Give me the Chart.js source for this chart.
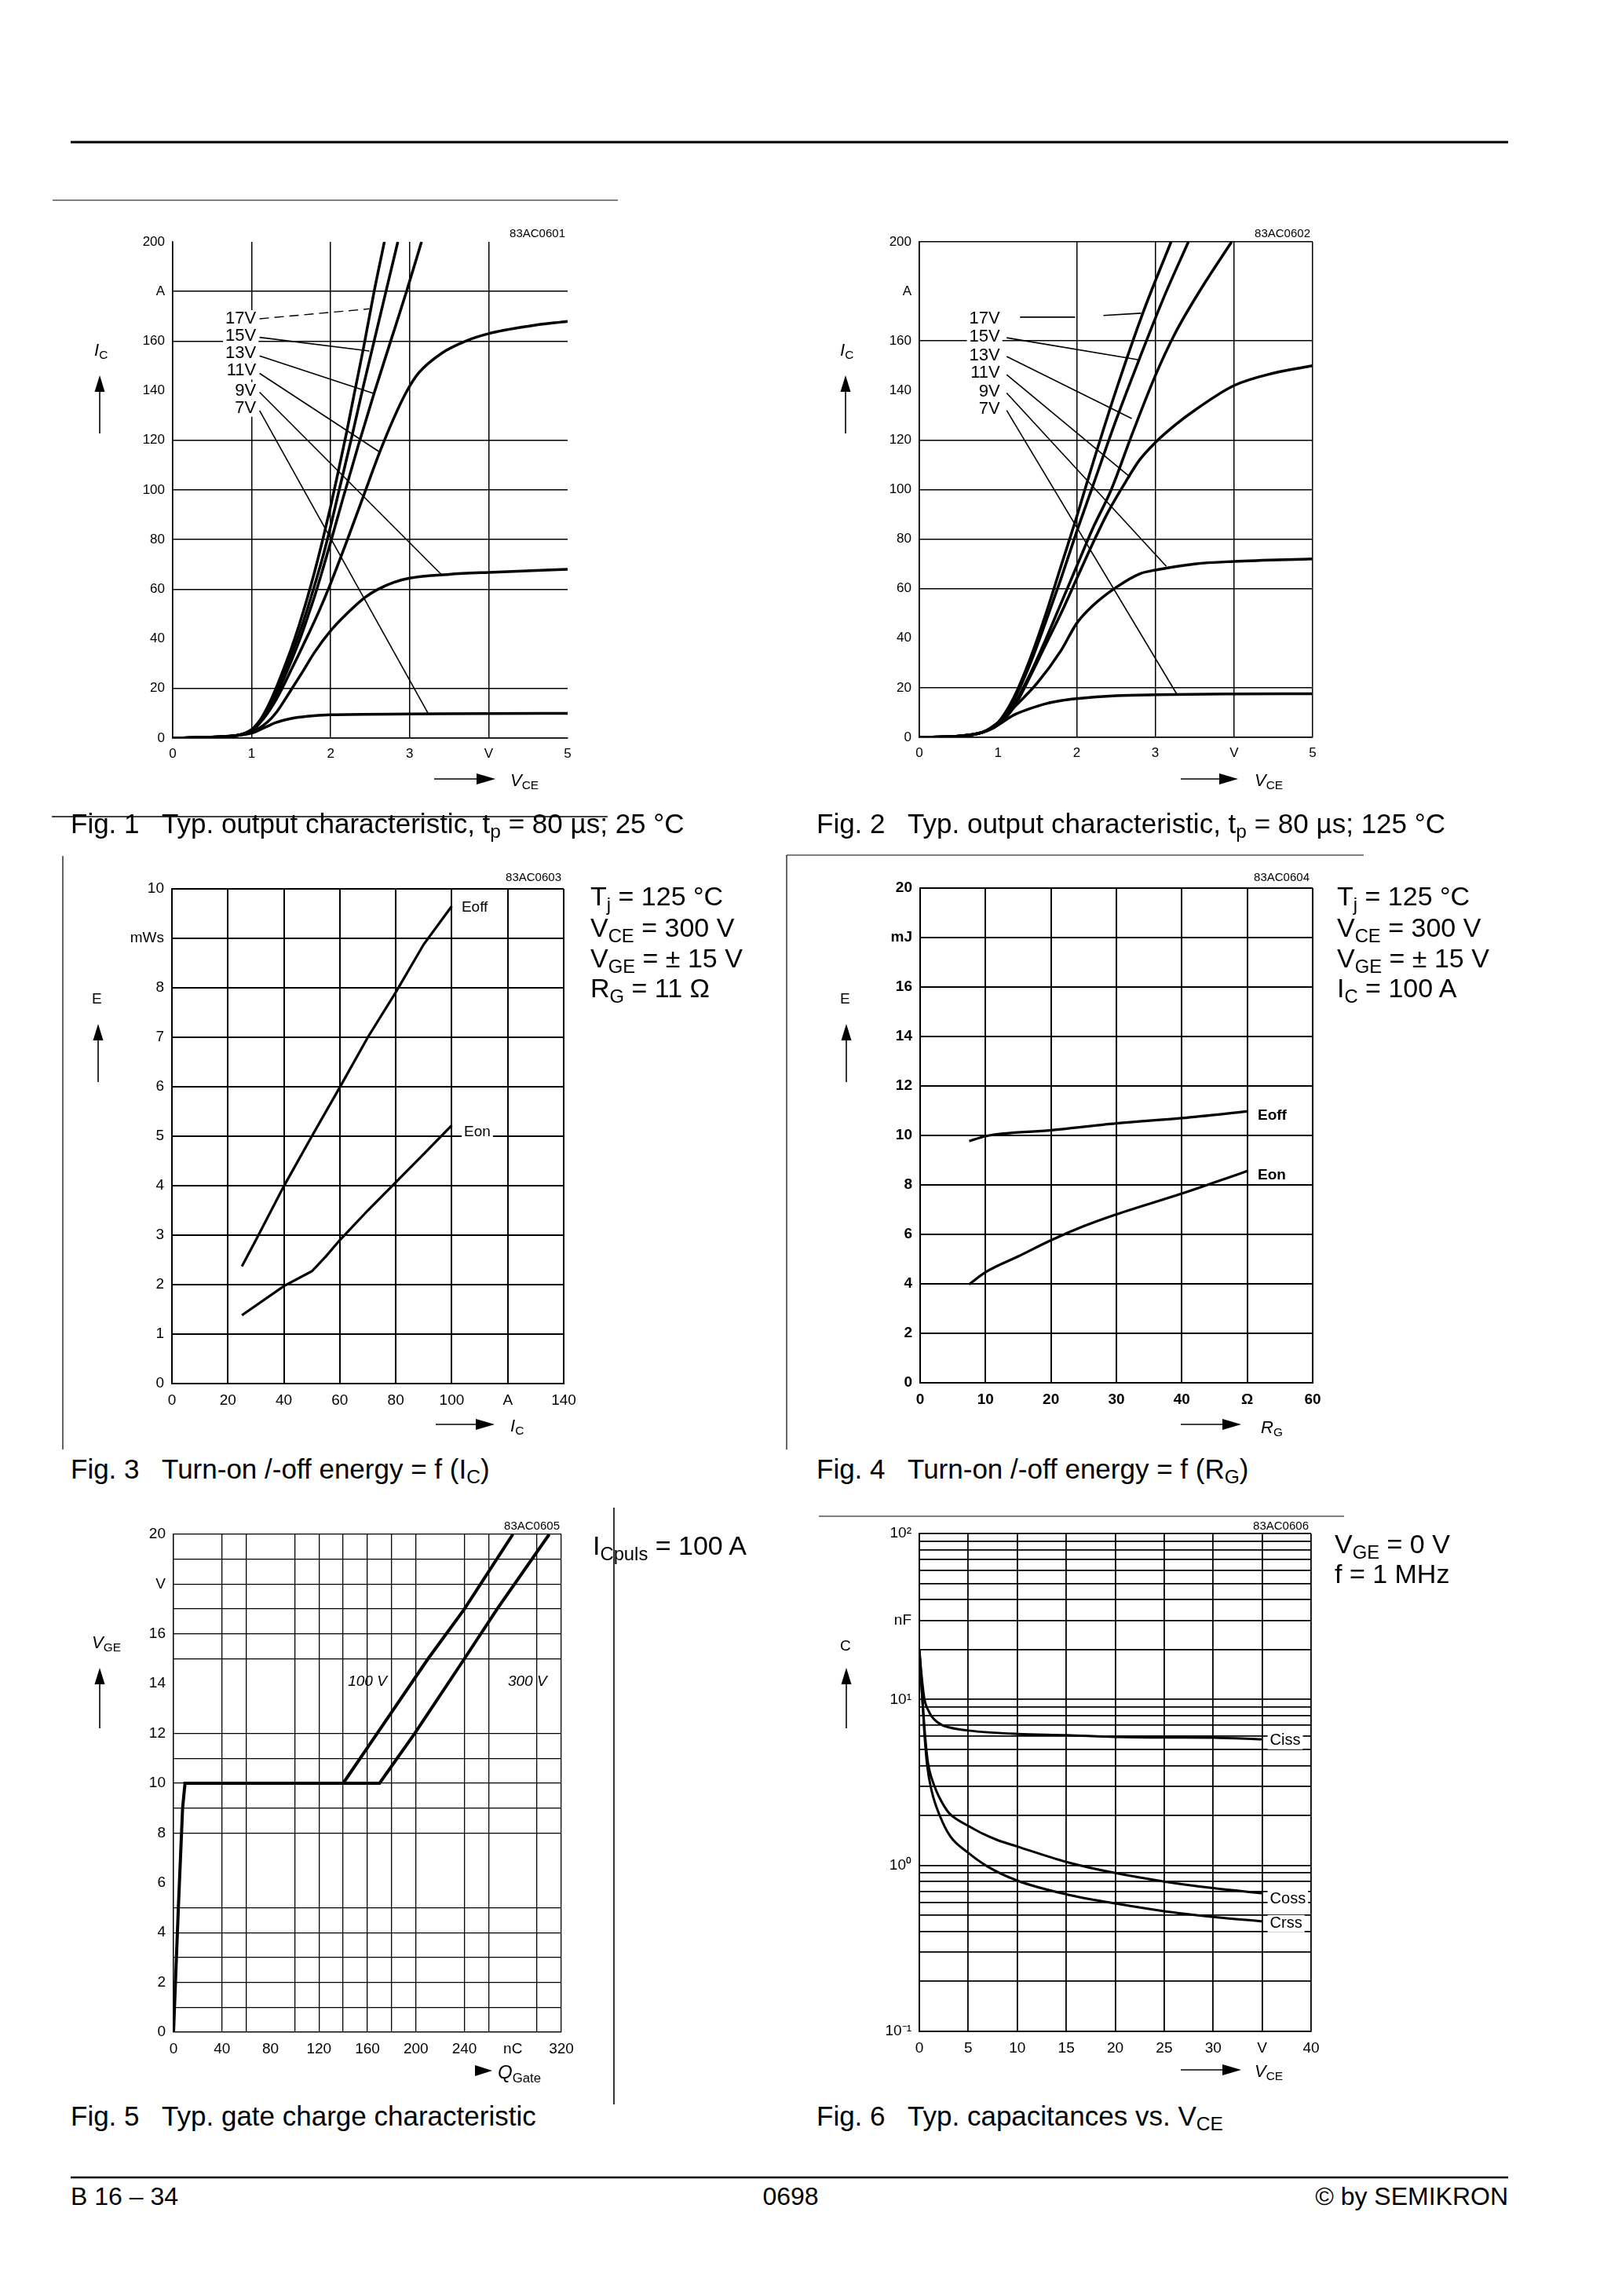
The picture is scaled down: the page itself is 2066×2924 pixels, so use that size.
<!DOCTYPE html>
<html>
<head>
<meta charset="utf-8">
<script src="https://cdn.jsdelivr.net/npm/chart.js@4.4.1/dist/chart.umd.min.js"></script>
<style>
  body { margin: 0; background: #fff; }
  #page { position: relative; width: 2066px; height: 2924px; background: #fff; overflow: hidden;
          font-family: 'Liberation Sans', Arial, sans-serif; color: #000; }
  .t { position: absolute; white-space: nowrap; line-height: 1; transform: translateY(-50%); }
  .r { transform: translate(-100%, -50%); }
  .c { transform: translate(-50%, -50%); }
  sub { font-size: 0.7em; vertical-align: -0.28em; line-height: 0; }
  canvas { position: absolute; }
  svg { position: absolute; left: 0; top: 0; }
</style>
</head>
<body>
<div id="page"></div>
<script>
// ---- Fig. 1: output characteristic, 25 °C  ([VCE, IC] pairs)
const f1_17V = [[0,0],[0.4,0.3],[0.8,1],[1,3.5],[1.1,7],[1.2,12.5],[1.3,19.5],[1.4,27.5],[1.5,36],[1.6,45.5],[1.7,56],[1.8,67.5],[1.9,80],[2,93.5],[2.1,108],[2.2,123],[2.3,139],[2.42,158],[2.55,180],[2.68,200]];
const f1_15V = [[0,0],[0.4,0.3],[0.8,1],[1,3.3],[1.1,6.5],[1.2,11.5],[1.3,18],[1.4,25.5],[1.5,33.5],[1.6,42],[1.7,51.5],[1.8,62],[1.9,73],[2,85.5],[2.1,99],[2.25,119],[2.4,140],[2.55,160],[2.7,180],[2.85,200]];
const f1_13V = [[0,0],[0.4,0.3],[0.8,1],[1,3.2],[1.1,6.2],[1.2,10.5],[1.3,16.5],[1.4,23.5],[1.5,31],[1.6,39],[1.7,48],[1.8,57.5],[1.9,68],[2,79],[2.15,96],[2.35,118],[2.55,139],[2.76,160],[2.96,180],[3.15,200]];
const f1_11V = [[0,0],[0.4,0.3],[0.8,1],[1,3],[1.1,6],[1.2,10],[1.3,15],[1.4,21],[1.5,27.5],[1.6,34],[1.72,42],[1.85,51],[1.97,60],[2.2,79],[2.42,98],[2.63,116],[2.8,129],[2.95,139],[3.11,147],[3.4,155],[3.71,160],[4,163],[4.5,166],[5,168]];
const f1_9V  = [[0,0],[0.4,0.3],[0.8,1],[1,2.5],[1.2,6.5],[1.32,10.7],[1.49,19],[1.65,27],[1.79,34.3],[2,43.3],[2.2,50],[2.43,56.6],[2.6,60],[2.8,62.8],[3,64.5],[3.5,66],[4,66.8],[5,68]];
const f1_7V  = [[0,0],[0.4,0.3],[0.8,1],[1,2],[1.2,4.8],[1.3,6.2],[1.5,7.9],[1.7,8.8],[2,9.4],[3,9.7],[4,9.9],[5,10]];
const f1_pointers = [
  [[1.10,169],[2.49,173]],
  [[1.10,161.5],[2.49,156]],
  [[1.10,154],[2.535,139]],
  [[1.10,147],[2.61,115.5]],
  [[1.10,139.4],[3.40,66]],
  [[1.10,132],[3.23,10.2]]
];
const f1_labels = ['17V','15V','13V','11V','9V','7V'];
const f1_labelY = [169,162,155,148,140,133];
const f1_xTicks = [0,1,2,3,4,5];
const f1_xLabels = ['0','1','2','3','V','5'];
const f1_yTicks = [0,20,40,60,80,100,120,140,160,180,200];
const f1_yLabels = ['0','20','40','60','80','100','120','140','160','A','200'];

// ---- Fig. 2: output characteristic, 125 °C
const f2_17V = [[0,0],[0.5,0.5],[0.8,2],[1,6],[1.2,16],[1.4,31],[1.6,49],[1.8,69],[2,89],[2.2,110],[2.5,140],[2.85,172],[3.2,200]];
const f2_15V = [[0,0],[0.5,0.5],[0.8,2],[1,5.5],[1.2,15],[1.4,29],[1.6,46],[1.8,64],[2,83],[2.2,101],[2.5,128],[2.8,153],[3.1,177],[3.42,200]];
const f2_13V = [[0,0],[0.5,0.5],[0.8,2],[1,5],[1.2,13],[1.4,25],[1.6,39],[1.8,54],[2,69],[2.2,84],[2.44,100],[2.7,122],[3,146],[3.25,163],[3.6,182],[3.97,200]];
const f2_11V = [[0,0],[0.5,0.5],[0.8,2],[1,5],[1.2,12],[1.4,24],[1.6,37],[1.8,50],[2,64],[2.2,78],[2.4,91],[2.62,103],[2.8,112],[3,119],[3.25,126],[3.5,132],[4,142],[4.5,147],[5,150]];
const f2_9V  = [[0,0],[0.5,0.5],[0.8,2],[1,6],[1.2,12],[1.5,22],[1.8,35],[2,46],[2.2,53],[2.5,60.5],[2.8,66],[3,67.5],[3.5,70],[4,71],[5,72]];
const f2_7V  = [[0,0],[0.5,0.5],[0.8,2],[1,5],[1.2,9],[1.4,11.5],[1.6,13.5],[1.8,14.8],[2,15.6],[2.5,16.8],[3,17.2],[4,17.5],[5,17.6]];
const f2_pointers = [
  [[1.28,169.6],[1.98,169.6],[2.1,null],[2.34,170.3],[2.82,171.2]],
  [[1.11,161.3],[2.79,152.4]],
  [[1.11,153.7],[2.70,128.7]],
  [[1.11,146.4],[2.68,105]],
  [[1.11,139],[3.14,69]],
  [[1.11,132],[3.27,17.6]]
];
const f2_labels = ['17V','15V','13V','11V','9V','7V'];
const f2_labelY = [168.8,161.8,154,147,139.6,132.4];

// ---- Fig. 3: energy vs IC
const f3_Eoff = [[25,2.37],[30,2.9],[40,3.99],[50,5.0],[60,5.99],[70,7.0],[80,7.91],[90,8.88],[100,9.65]];
const f3_Eon  = [[25,1.38],[40,1.97],[50,2.27],[55,2.57],[60,2.9],[70,3.5],[80,4.07],[90,4.64],[100,5.22]];
const f3_xTicks = [0,20,40,60,80,100,120,140];
const f3_xLabels = ['0','20','40','60','80','100','A','140'];
const f3_yTicks = [0,1,2,3,4,5,6,7,8,9,10];
const f3_yLabels = ['0','1','2','3','4','5','6','7','8','mWs','10'];

// ---- Fig. 4: energy vs RG
const f4_Eoff = [[7.5,9.77],[10,9.97],[20,10.21],[30,10.49],[40,10.7],[50,10.97]];
const f4_Eon  = [[7.5,3.98],[10,4.47],[15,5.11],[20,5.76],[25,6.33],[30,6.81],[40,7.65],[45,8.1],[50,8.56]];
const f4_xTicks = [0,10,20,30,40,50,60];
const f4_xLabels = ['0','10','20','30','40','Ω','60'];
const f4_yTicks = [0,2,4,6,8,10,12,14,16,18,20];
const f4_yLabels = ['0','2','4','6','8','10','12','14','16','mJ','20'];

// ---- Fig. 5: gate charge
const f5_common = [[0,0],[0.8,1],[4,5],[7.5,9],[9.5,10],[140,10]];
const f5_100V = [[140,10],[168,12],[210,15],[240,17],[280,20]];
const f5_300V = [[140,10],[170,10],[199,12],[240,15],[267,17],[310,20]];
const f5_xTicks = [0,20,40,60,80,100,120,140,160,180,200,220,240,260,280,300,320];
const f5_xLabels = ['0','','40','','80','','120','','160','','200','','240','','nC','','320'];
const f5_yTicks = [0,1,2,3,4,5,6,7,8,9,10,11,12,13,14,15,16,17,18,19,20];
const f5_yLabels = ['0','','2','','4','','6','','8','','10','','12','','14','','16','','V','','20'];

// ---- Fig. 6: capacitances vs VCE
const f6_Ciss = [[0,20],[0.2,14.5],[0.5,10.2],[1,8.4],[1.5,7.6],[2.35,7.0],[3,6.8],[5,6.5],[10,6.2],[15,6.1],[20,5.95],[25,5.9],[30,5.88],[35,5.75]];
const f6_Coss = [[0,20],[0.25,11.5],[0.5,7],[0.8,4.5],[1,3.8],[1.5,3.05],[2,2.6],[3,2.08],[4,1.87],[5,1.73],[6.5,1.55],[8,1.42],[10,1.3],[15,1.05],[20,0.9],[25,0.8],[30,0.73],[35,0.68]];
const f6_Crss = [[0,20],[0.25,11.5],[0.5,6.5],[0.8,4],[1.28,2.78],[2.08,2.0],[3.15,1.5],[5,1.19],[6.9,0.99],[10,0.81],[15,0.67],[20,0.59],[25,0.53],[30,0.49],[35,0.46]];
const f6_xTicks = [0,5,10,15,20,25,30,35,40];
const f6_xLabels = ['0','5','10','15','20','25','30','V','40'];
const f6_yGrid = [0.1,0.2,0.3,0.4,0.5,0.6,0.7,0.8,0.9,1,2,3,4,5,6,7,8,9,10,20,30,40,50,60,70,80,90,100];
const f6_yLabelMap = { 0.1: '10⁻¹', 1: '10⁰', 10: '10¹', 30: 'nF', 100: '10²' };

const page = document.getElementById('page');
Chart.defaults.font.family = "'Liberation Sans', Arial, sans-serif";
Chart.defaults.color = '#000';

const YW = 110, PT = 24, PR = 44, XH = 56;

function makeAxis(o) {
  const hide = o.hide || [];
  return {
    type: o.type || 'linear',
    min: o.min, max: o.max,
    afterBuildTicks: s => { s.ticks = o.ticks.map(v => ({ value: v })); },
    afterFit: s => { if (o.vertical) s.width = YW; else s.height = XH; },
    grid: {
      drawTicks: false,
      lineWidth: o.gw,
      color: c => (c.tick && hide.includes(c.tick.value)) ? 'rgba(0,0,0,0)' : '#000'
    },
    border: { display: true, color: '#000', width: o.gw },
    ticks: {
      autoSkip: false, maxRotation: 0, minRotation: 0, padding: 10, color: '#000',
      font: { size: o.fs, weight: o.fw || 'normal' },
      callback: (v, i) => o.labels[i]
    }
  };
}

function ds(pts, w, dash, smooth) {
  return {
    data: pts, borderColor: '#000', borderWidth: w, borderDash: dash || [],
    pointRadius: 0, fill: false, tension: 0, spanGaps: false,
    cubicInterpolationMode: smooth ? 'monotone' : 'default'
  };
}

function textPlugin(items) {
  return {
    id: 'curveText',
    afterDatasetsDraw(chart) {
      const ctx = chart.ctx, sx = chart.scales.x, sy = chart.scales.y;
      ctx.save();
      items.forEach(it => {
        ctx.font = it.font;
        ctx.textAlign = it.align || 'left';
        ctx.textBaseline = 'middle';
        const px = sx.getPixelForValue(it.x), py = sy.getPixelForValue(it.y);
        if (it.bg) {
          const tw = ctx.measureText(it.text).width;
          const x0 = it.align === 'right' ? px - tw : (it.align === 'center' ? px - tw / 2 : px);
          ctx.fillStyle = '#fff';
          ctx.fillRect(x0 - 3, py - 11, tw + 6, 22);
        }
        ctx.fillStyle = '#000';
        ctx.fillText(it.text, px, py);
      });
      ctx.restore();
    }
  };
}

function plotChart(box, datasets, xAx, yAx, texts) {
  const cv = document.createElement('canvas');
  const w = box[2] - box[0] + YW + PR, h = box[3] - box[1] + PT + XH;
  cv.width = w; cv.height = h;
  cv.style.left = (box[0] - YW) + 'px';
  cv.style.top = (box[1] - PT) + 'px';
  page.appendChild(cv);
  new Chart(cv, {
    type: 'line',
    data: { datasets: datasets },
    options: {
      responsive: false,
      animation: false,
      layout: { padding: { top: PT, right: PR, left: 0, bottom: 0 } },
      plugins: { legend: { display: false }, tooltip: { enabled: false } },
      scales: { x: makeAxis(xAx), y: makeAxis(Object.assign({ vertical: true }, yAx)) }
    },
    plugins: [textPlugin(texts || [])]
  });
}

// ---- page decoration (rules, arrows)
const NS = 'http://www.w3.org/2000/svg';
const svg = document.createElementNS(NS, 'svg');
svg.setAttribute('width', 2066); svg.setAttribute('height', 2924);
page.appendChild(svg);
function line(x1, y1, x2, y2, w) {
  const l = document.createElementNS(NS, 'line');
  l.setAttribute('x1', x1); l.setAttribute('y1', y1); l.setAttribute('x2', x2); l.setAttribute('y2', y2);
  l.setAttribute('stroke', '#000'); l.setAttribute('stroke-width', w);
  svg.appendChild(l);
}
function tri(pts) {
  const p = document.createElementNS(NS, 'polygon');
  p.setAttribute('points', pts.map(q => q.join(',')).join(' '));
  p.setAttribute('fill', '#000');
  svg.appendChild(p);
}
function arrowUp(x, tip, bottom) { line(x, bottom, x, tip + 16, 1.6); tri([[x, tip], [x - 6.5, tip + 21], [x + 6.5, tip + 21]]); }
function arrowRight(x1, tip, y) { line(x1, y, tip - 18, y, 1.6); tri([[tip, y], [tip - 24, y - 7], [tip - 24, y + 7]]); }
function txt(x, y, html, size, cls, style) {
  const d = document.createElement('div');
  d.className = 't ' + (cls || '');
  d.style.left = x + 'px'; d.style.top = y + 'px'; d.style.fontSize = size + 'px';
  if (style) Object.assign(d.style, style);
  d.innerHTML = html;
  page.appendChild(d);
}

line(90, 181, 1921, 181, 3);
line(67, 255, 787, 255, 1.2);
line(66, 1040, 774, 1040, 1.3);
line(80, 1090, 80, 1846, 1.2);
line(1002, 1089, 1002, 1846, 1.2);
line(1002, 1089, 1737, 1089, 1.2);
line(1043, 1931, 1712, 1931, 1.2);
line(782, 1920, 782, 2680, 1.6);
line(90, 2773, 1921, 2773, 2.5);

// ---- Fig. 1
const curveLabelFont = "22px 'Liberation Sans', Arial, sans-serif";
plotChart([220, 308, 723, 940],
  [ds(f1_17V, 3.5, null, true), ds(f1_15V, 3.5, null, true), ds(f1_13V, 3.5, null, true),
   ds(f1_11V, 3.5, null, true), ds(f1_9V, 3.5, null, true), ds(f1_7V, 3.5, null, true),
   ds(f1_pointers[0], 1.4, [12, 7]), ...f1_pointers.slice(1).map(p => ds(p, 1.6))],
  { min: 0, max: 5, ticks: f1_xTicks, labels: f1_xLabels, hide: [5], gw: 1.5, fs: 17 },
  { min: 0, max: 200, ticks: f1_yTicks, labels: f1_yLabels, hide: [40, 140, 200], gw: 1.5, fs: 17 },
  f1_labels.map((t, i) => ({ text: t, x: 1.056, y: f1_labelY[i], align: 'right', font: curveLabelFont, bg: true })));

// ---- Fig. 2
plotChart([1171, 308, 1672, 939],
  [ds(f2_17V, 3.5, null, true), ds(f2_15V, 3.5, null, true), ds(f2_13V, 3.5, null, true),
   ds(f2_11V, 3.5, null, true), ds(f2_9V, 3.5, null, true), ds(f2_7V, 3.5, null, true),
   ...f2_pointers.map(p => ds(p, 1.6))],
  { min: 0, max: 5, ticks: f1_xTicks, labels: f1_xLabels, hide: [1], gw: 1.5, fs: 17 },
  { min: 0, max: 200, ticks: f1_yTicks, labels: f1_yLabels, hide: [40, 140, 180], gw: 1.5, fs: 17 },
  f2_labels.map((t, i) => ({ text: t, x: 1.025, y: f2_labelY[i], align: 'right', font: curveLabelFont, bg: true })));

// ---- Fig. 3
const smallFont = "19px 'Liberation Sans', Arial, sans-serif";
plotChart([219, 1132, 718, 1762],
  [ds(f3_Eoff, 3.2), ds(f3_Eon, 3.2)],
  { min: 0, max: 140, ticks: f3_xTicks, labels: f3_xLabels, gw: 2, fs: 19 },
  { min: 0, max: 10, ticks: f3_yTicks, labels: f3_yLabels, gw: 2, fs: 19 },
  [{ text: 'Eoff', x: 103.5, y: 9.63, font: smallFont, bg: true },
   { text: 'Eon', x: 104.4, y: 5.08, font: smallFont, bg: true }]);

// ---- Fig. 4
const boldFont = "bold 19px 'Liberation Sans', Arial, sans-serif";
plotChart([1172, 1131, 1672, 1761],
  [ds(f4_Eoff, 3.2, null, true), ds(f4_Eon, 3.2, null, true)],
  { min: 0, max: 60, ticks: f4_xTicks, labels: f4_xLabels, gw: 2, fs: 19, fw: 'bold' },
  { min: 0, max: 20, ticks: f4_yTicks, labels: f4_yLabels, gw: 2, fs: 19, fw: 'bold' },
  [{ text: 'Eoff', x: 51.6, y: 10.8, font: boldFont, bg: true },
   { text: 'Eon', x: 51.6, y: 8.38, font: boldFont, bg: true }]);

// ---- Fig. 5
const italicFont = "italic 19px 'Liberation Sans', Arial, sans-serif";
plotChart([221, 1954, 715, 2588],
  [ds(f5_common, 4), ds(f5_100V, 4), ds(f5_300V, 4)],
  { min: 0, max: 320, ticks: f5_xTicks, labels: f5_xLabels, hide: [20, 80, 220, 280], gw: 1.3, fs: 19 },
  { min: 0, max: 20, ticks: f5_yTicks, labels: f5_yLabels, hide: [6, 7, 13, 14], gw: 1.3, fs: 19 },
  [{ text: '100 V', x: 160, y: 14.07, align: 'center', font: italicFont },
   { text: '300 V', x: 292, y: 14.07, align: 'center', font: italicFont }]);

// ---- Fig. 6
const capFont = "20px 'Liberation Sans', Arial, sans-serif";
plotChart([1171, 1953, 1670, 2587],
  [ds(f6_Ciss, 3, null, true), ds(f6_Coss, 3, null, true), ds(f6_Crss, 3, null, true)],
  { min: 0, max: 40, ticks: f6_xTicks, labels: f6_xLabels, gw: 1.8, fs: 19 },
  { type: 'logarithmic', min: 0.1, max: 100, ticks: f6_yGrid, labels: f6_yGrid.map(v => f6_yLabelMap[v] || ''), gw: 1.8, fs: 19 },
  [{ text: 'Ciss', x: 35.8, y: 5.65, font: capFont, bg: true },
   { text: 'Coss', x: 35.8, y: 0.628, font: capFont, bg: true },
   { text: 'Crss', x: 35.8, y: 0.446, font: capFont, bg: true }]);

// ---- axis titles with arrows
txt(120, 446, '<i>I</i><sub>C</sub>', 22);            arrowUp(127, 478, 552);
arrowRight(553, 631, 992);                            txt(650, 994, '<i>V</i><sub>CE</sub>', 22);
txt(1070, 446, '<i>I</i><sub>C</sub>', 22);           arrowUp(1077, 478, 552);
arrowRight(1504, 1577, 992);                          txt(1598, 994, '<i>V</i><sub>CE</sub>', 22);
txt(117, 1271, 'E', 19);                              arrowUp(125, 1304, 1378);
arrowRight(555, 630, 1814);                           txt(650, 1816, '<i>I</i><sub>C</sub>', 22);
txt(1070, 1271, 'E', 19);                             arrowUp(1078, 1304, 1378);
arrowRight(1504, 1581, 1814);                         txt(1606, 1818, '<i>R</i><sub>G</sub>', 22);
txt(117, 2092, '<i>V</i><sub>GE</sub>', 22);          arrowUp(127, 2124, 2201);
tri([[627, 2637], [605, 2630], [605, 2644]]);         txt(634, 2639, '<i>Q</i><sub>Gate</sub>', 24);
txt(1070, 2095, 'C', 19);                             arrowUp(1078, 2124, 2201);
arrowRight(1504, 1581, 2636);                         txt(1598, 2638, '<i>V</i><sub>CE</sub>', 22);

// ---- drawing codes
txt(720, 296, '83AC0601', 15, 'r');
txt(1669, 296, '83AC0602', 15, 'r');
txt(715, 1116, '83AC0603', 15, 'r');
txt(1668, 1116, '83AC0604', 15, 'r');
txt(713, 1942, '83AC0605', 15, 'r');
txt(1667, 1942, '83AC0606', 15, 'r');

// ---- condition texts
const condY = [1141, 1181, 1220, 1258];
['T<sub>j</sub> = 125 °C', 'V<sub>CE</sub> = 300 V', 'V<sub>GE</sub> = ± 15 V', 'R<sub>G</sub> = 11 Ω']
  .forEach((s, i) => txt(752, condY[i], s, 34));
['T<sub>j</sub> = 125 °C', 'V<sub>CE</sub> = 300 V', 'V<sub>GE</sub> = ± 15 V', 'I<sub>C</sub> = 100 A']
  .forEach((s, i) => txt(1703, condY[i], s, 34));
txt(755, 1968, 'I<sub>Cpuls</sub> = 100 A', 34);
txt(1700, 1966, 'V<sub>GE</sub> = 0 V', 34);
txt(1700, 2004, 'f = 1 MHz', 34);

// ---- captions
txt(90, 1048, 'Fig. 1&nbsp;&nbsp; Typ. output characteristic, t<sub>p</sub> = 80 µs; 25 °C', 35);
txt(1040, 1048, 'Fig. 2&nbsp;&nbsp; Typ. output characteristic, t<sub>p</sub> = 80 µs; 125 °C', 35);
txt(90, 1870, 'Fig. 3&nbsp;&nbsp; Turn-on /-off energy = f (I<sub>C</sub>)', 35);
txt(1040, 1870, 'Fig. 4&nbsp;&nbsp; Turn-on /-off energy = f (R<sub>G</sub>)', 35);
txt(90, 2694, 'Fig. 5&nbsp;&nbsp; Typ. gate charge characteristic', 35);
txt(1040, 2694, 'Fig. 6&nbsp;&nbsp; Typ. capacitances vs. V<sub>CE</sub>', 35);

// ---- footer
txt(90, 2797, 'B 16 – 34', 32);
txt(1007, 2797, '0698', 32, 'c');
txt(1921, 2797, '© by SEMIKRON', 32, 'r');
</script>
</body>
</html>
